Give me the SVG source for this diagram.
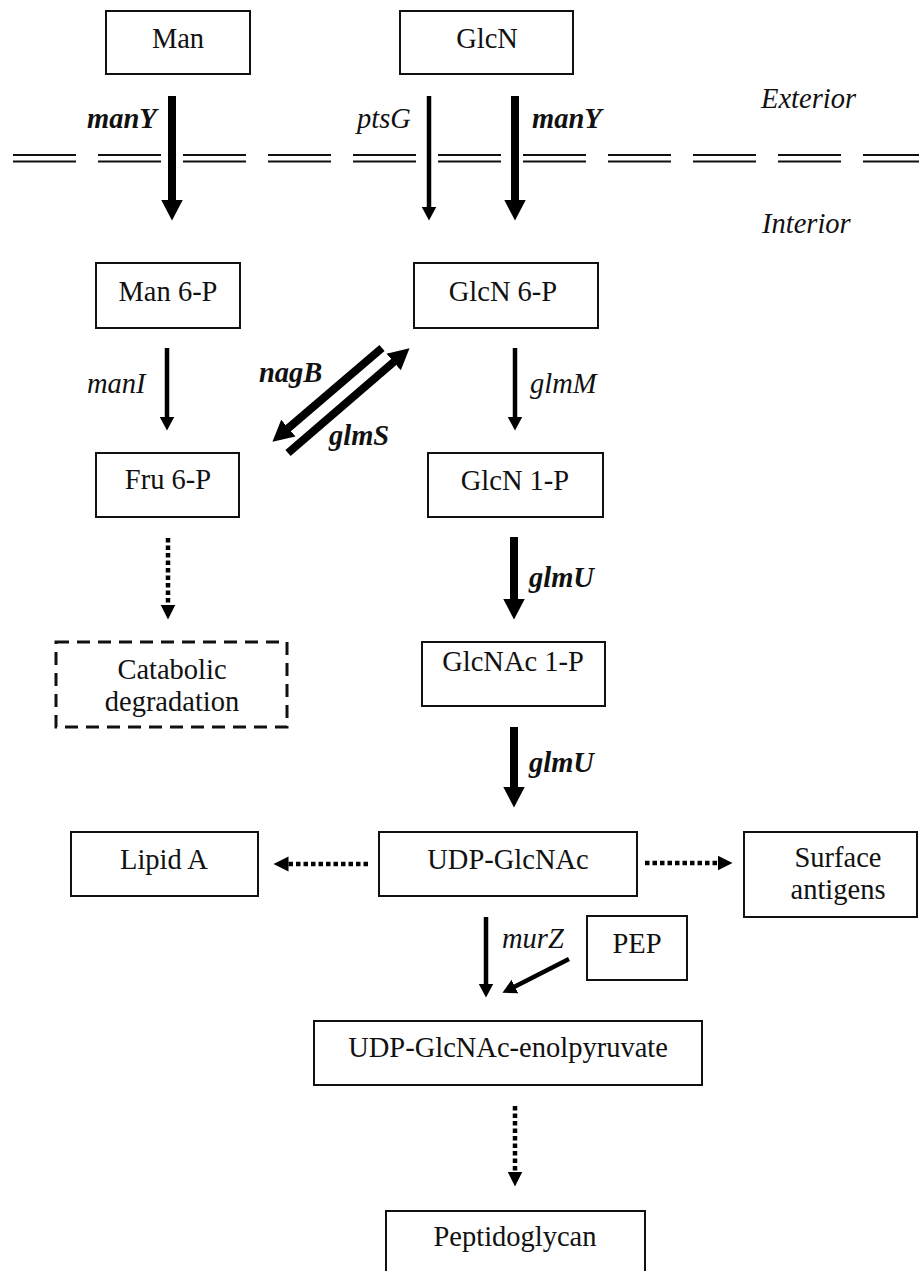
<svg xmlns="http://www.w3.org/2000/svg" width="919" height="1271" viewBox="0 0 919 1271">
<style>
text{font-family:"Liberation Serif","Times New Roman",serif;font-size:28.5px;fill:#111}
.c{text-anchor:middle}
.i{font-style:italic}
.b{font-weight:bold}
.box{fill:#fff;stroke:#111;stroke-width:2}
.dbox{fill:none;stroke:#111;stroke-width:3;stroke-dasharray:13 8}
.mem{stroke:#111;stroke-width:2.2;stroke-dasharray:63 22}
.thick{stroke:#000;stroke-width:8;fill:none}
.thin{stroke:#000;stroke-width:4.5;fill:none}
.dot{stroke:#000;stroke-width:4.5;stroke-dasharray:4.5 3;fill:none}
</style>
<defs>
<marker id="ahThick" markerUnits="userSpaceOnUse" markerWidth="22" markerHeight="24" viewBox="0 -12 22 24" refX="0.5" refY="0" orient="auto"><path d="M0,-11 L21,0 L0,11 z" fill="#000"/></marker>
<marker id="ahThin" markerUnits="userSpaceOnUse" markerWidth="16" markerHeight="18" viewBox="0 -9 16 18" refX="0.5" refY="0" orient="auto"><path d="M0,-7.5 L14,0 L0,7.5 z" fill="#000"/></marker>
<marker id="ahDot" markerUnits="userSpaceOnUse" markerWidth="16" markerHeight="18" viewBox="0 -9 16 18" refX="0.5" refY="0" orient="auto"><path d="M0,-7.5 L15,0 L0,7.5 z" fill="#000"/></marker>
</defs>

<g id="membrane">
<line class="mem" x1="13" y1="155" x2="919" y2="155"/>
<line class="mem" x1="13" y1="161.5" x2="919" y2="161.5"/>
<text class="i" x="761" y="108">Exterior</text>
<text class="i" x="762" y="233">Interior</text>
</g>

<g id="connectors">
<line class="thick" x1="172" y1="96" x2="172" y2="200" marker-end="url(#ahThick)"/>
<line class="thin" x1="429" y1="96" x2="429" y2="207" marker-end="url(#ahThin)"/>
<line class="thick" x1="515" y1="96" x2="515" y2="200" marker-end="url(#ahThick)"/>
<line class="thin" x1="167" y1="348" x2="167" y2="417" marker-end="url(#ahThin)"/>
<line class="thin" x1="515" y1="348" x2="515" y2="417" marker-end="url(#ahThin)"/>
<line class="thick" x1="382" y1="348" x2="288" y2="428.4" marker-end="url(#ahThick)"/>
<line class="thick" x1="288" y1="453" x2="394" y2="361.7" marker-end="url(#ahThick)"/>
<line class="dot" x1="168" y1="538" x2="168" y2="605" marker-end="url(#ahDot)"/>
<line class="thick" x1="514" y1="537" x2="514" y2="599" marker-end="url(#ahThick)"/>
<line class="thick" x1="514" y1="727" x2="514" y2="787" marker-end="url(#ahThick)"/>
<line class="dot" x1="368" y1="864" x2="288" y2="864" marker-end="url(#ahDot)"/>
<line class="dot" x1="645" y1="863" x2="718" y2="863" marker-end="url(#ahDot)"/>
<line class="thin" x1="486" y1="917" x2="486" y2="984" marker-end="url(#ahThin)"/>
<line class="thin" x1="569" y1="959" x2="514.5" y2="986.7" marker-end="url(#ahThin)"/>
<line class="dot" x1="515" y1="1106" x2="515" y2="1172" marker-end="url(#ahDot)"/>
<text class="i b" x="87" y="128">manY</text>
<text class="i" x="357" y="128">ptsG</text>
<text class="i b" x="532" y="128">manY</text>
<text class="i" x="87" y="393">manI</text>
<text class="i b" x="259" y="382">nagB</text>
<text class="i b" x="329" y="445">glmS</text>
<text class="i" x="530" y="393">glmM</text>
<text class="i b" x="529" y="587">glmU</text>
<text class="i b" x="529" y="772">glmU</text>
<text class="i" x="502" y="948">murZ</text>
</g>

<g id="man"><rect class="box" x="106" y="11" width="144" height="63"/><text class="c" x="178" y="48">Man</text></g>
<g id="glcn"><rect class="box" x="400" y="11" width="173" height="63"/><text class="c" x="487" y="48">GlcN</text></g>
<g id="man6p"><rect class="box" x="96" y="263" width="144" height="65"/><text class="c" x="168" y="301">Man 6-P</text></g>
<g id="glcn6p"><rect class="box" x="414" y="263" width="184" height="65"/><text class="c" x="503" y="301">GlcN 6-P</text></g>
<g id="fru6p"><rect class="box" x="96" y="453" width="143" height="64"/><text class="c" x="168" y="489">Fru 6-P</text></g>
<g id="glcn1p"><rect class="box" x="428" y="453" width="175" height="64"/><text class="c" x="515" y="490">GlcN 1-P</text></g>
<g id="catabolic"><rect class="dbox" x="56" y="642" width="231" height="85"/><text class="c" x="172" y="679">Catabolic</text><text class="c" x="172" y="711">degradation</text></g>
<g id="glcnac1p"><rect class="box" x="422" y="642" width="183" height="64"/><text class="c" x="513" y="671">GlcNAc 1-P</text></g>
<g id="lipidA"><rect class="box" x="71" y="832" width="187" height="64"/><text class="c" x="164" y="869">Lipid A</text></g>
<g id="udpglcnac"><rect class="box" x="379" y="832" width="258" height="64"/><text class="c" x="508" y="869">UDP-GlcNAc</text></g>
<g id="surface"><rect class="box" x="744" y="832" width="173" height="85"/><text class="c" x="838" y="867">Surface</text><text class="c" x="838" y="899">antigens</text></g>
<g id="pep"><rect class="box" x="587" y="916" width="100" height="64"/><text class="c" x="637" y="953">PEP</text></g>
<g id="enolpyruvate"><rect class="box" x="314" y="1021" width="388" height="64"/><text class="c" x="508" y="1057">UDP-GlcNAc-enolpyruvate</text></g>
<g id="peptidoglycan"><rect class="box" x="386" y="1211" width="259" height="70"/><text class="c" x="515" y="1246">Peptidoglycan</text></g>
</svg>
